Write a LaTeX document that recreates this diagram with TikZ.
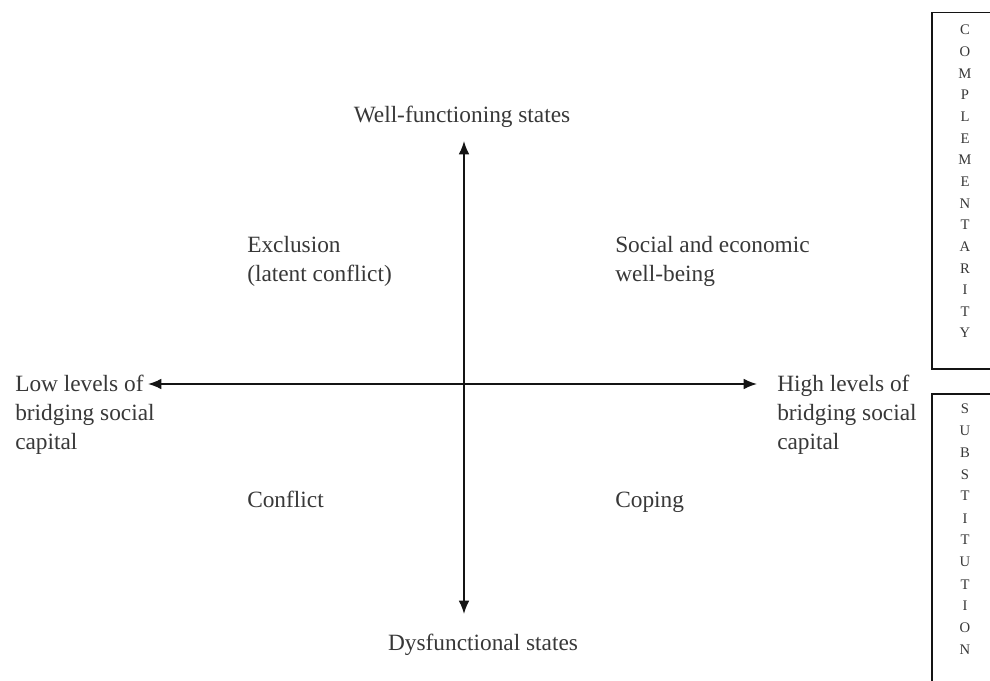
\documentclass[tikz,border=0pt]{standalone}
\usepackage{fontspec}
\setmainfont{Liberation Serif}
\usetikzlibrary{arrows.meta}
\definecolor{txt}{gray}{0.22}
\definecolor{ink}{gray}{0.08}
\tikzset{
  x=0.75pt, y=-0.75pt,
  lbl/.style={font=\fontsize{17.5}{21.5}\selectfont, text=txt, inner sep=0pt, anchor=base west},
  ttl/.style={font=\fontsize{17.5}{21.5}\selectfont, text=txt, inner sep=0pt, anchor=base},
  axis/.style={draw=ink, line width=1.2pt, {Latex[length=10pt,width=8pt]}-{Latex[length=10pt,width=8pt]}},
  frame/.style={draw=ink, line width=1.2pt},
  vert/.style={text=txt, inner sep=0pt, anchor=base}
}
\newcommand{\lstack}[1]{\begin{tabular}[t]{@{}l@{}}#1\end{tabular}}
\newcommand{\cstack}[1]{\begin{tabular}[t]{@{}c@{}}#1\end{tabular}}
\begin{document}
\begin{tikzpicture}
  \clip (0,0) rectangle (990,681);
  \fill[white] (0,0) rectangle (990,681);

  % axes
  \coordinate (west) at (148,384);
  \coordinate (east) at (757,384);
  \coordinate (north) at (464,141);
  \coordinate (south) at (464,614);
  \draw[axis] (west) -- (east);
  \draw[axis] (north) -- (south);

  % axis end labels
  \node[ttl] (top) at (462,123) {Well-functioning states};
  \node[ttl] (bottom) at (483,650) {Dysfunctional states};
  \node[lbl] (low) at (15,392) {\lstack{Low levels of\\bridging social\\capital}};
  \node[lbl] (high) at (777,392) {\lstack{High levels of\\bridging social\\capital}};

  % quadrant labels
  \node[lbl] (excl) at (247,253) {\lstack{Exclusion\\(latent conflict)}};
  \node[lbl] (well) at (615,253) {\lstack{Social and economic\\well-being}};
  \node[lbl] (conf) at (247,507) {Conflict};
  \node[lbl] (cope) at (615,507) {Coping};

  % side boxes
  \draw[frame] (1000,12.7) -- (931.7,12.7) -- (931.7,369) -- (1000,369);
  \draw[frame] (1000,394) -- (931.7,394) -- (931.7,700);
  \node[vert, font=\fontsize{11}{16.23}\selectfont] (comp) at (965,35)
    {\cstack{C\\O\\M\\P\\L\\E\\M\\E\\N\\T\\A\\R\\I\\T\\Y}};
  \node[vert, font=\fontsize{11}{16.5}\selectfont] (subs) at (965,413)
    {\cstack{S\\U\\B\\S\\T\\I\\T\\U\\T\\I\\O\\N}};
\end{tikzpicture}
\end{document}
